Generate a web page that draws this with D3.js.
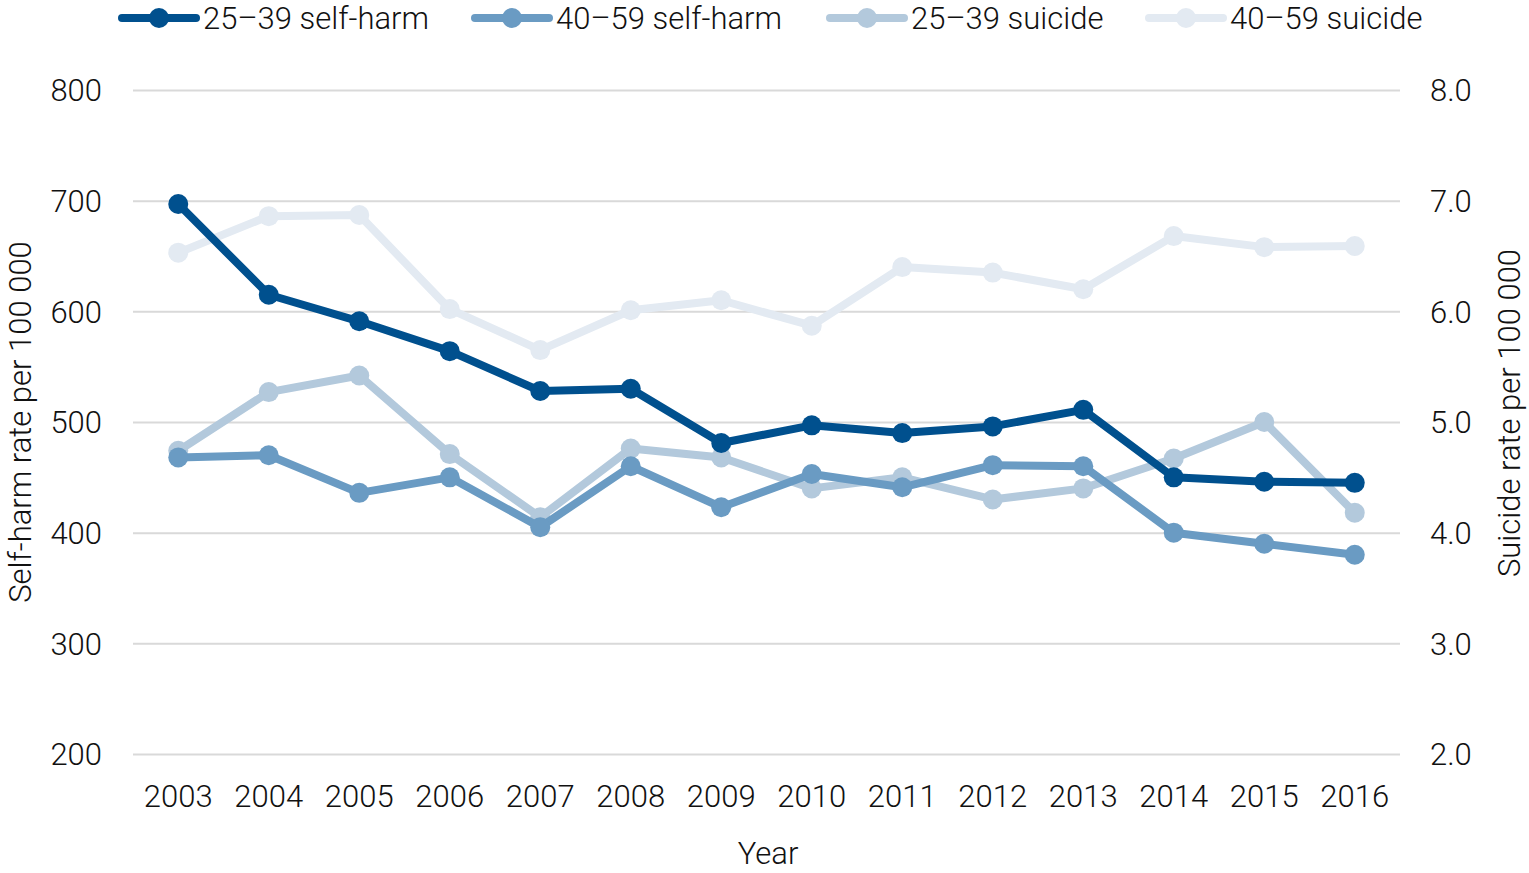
<!DOCTYPE html>
<html>
<head>
<meta charset="utf-8">
<script src="https://cdn.jsdelivr.net/npm/d3@7"></script>
<style>
  body { margin: 0; background: #fff; }
  svg text { font-family: Roboto, "Open Sans", sans-serif; font-weight: 300; fill: #111; }
</style>
</head>
<body>
<svg id="chart" width="1529" height="873"></svg>
<script>
// Data
const years = [2003, 2004, 2005, 2006, 2007, 2008, 2009, 2010, 2011, 2012, 2013, 2014, 2015, 2016];
const selfHarm2539 = [697, 615, 591, 564, 528, 530, 481, 497, 490, 496, 511, 450, 446, 445];
const selfHarm4059 = [468, 470, 436, 450, 405, 460, 423, 453, 441, 461, 460, 400, 390, 380];
const suicide2539 = [4.74, 5.27, 5.42, 4.71, 4.14, 4.76, 4.68, 4.40, 4.50, 4.30, 4.40, 4.67, 5.00, 4.18];
const suicide4059 = [6.53, 6.86, 6.87, 6.02, 5.65, 6.01, 6.10, 5.87, 6.40, 6.35, 6.20, 6.68, 6.58, 6.59];
const leftTicks = [200, 300, 400, 500, 600, 700, 800];
const rightTicks = [2, 3, 4, 5, 6, 7, 8];

const series = [
  {name: '40–59 suicide', values: suicide4059, axis: 'right', color: '#e3eaf2'},
  {name: '25–39 suicide', values: suicide2539, axis: 'right', color: '#b3c9dc'},
  {name: '40–59 self-harm', values: selfHarm4059, axis: 'left', color: '#6a9bc3'},
  {name: '25–39 self-harm', values: selfHarm2539, axis: 'left', color: '#00508e'}
];
const legendOrder = ['25–39 self-harm', '40–59 self-harm', '25–39 suicide', '40–59 suicide'];

const margin = {top: 90, left: 133, right: 129, bottom: 119};
const W = 1529, H = 873;
const w = W - margin.left - margin.right, h = H - margin.top - margin.bottom;

const svg = d3.select('#chart');
const g = svg.append('g').attr('transform', `translate(${margin.left},${margin.top})`);

const x = d3.scaleBand().domain(years).range([0, w]);
const yL = d3.scaleLinear().domain([200, 800]).range([h, 0]);
const yR = d3.scaleLinear().domain([2, 8]).range([h, 0]);

// Grid
g.append('g').call(d3.axisLeft(yL).tickValues(leftTicks).tickSize(-w).tickFormat(''))
  .call(a => a.select('.domain').remove())
  .call(a => a.selectAll('line').attr('stroke', '#d9d9d9').attr('stroke-width', 2));

// Left axis labels
g.append('g').call(d3.axisLeft(yL).tickValues(leftTicks).tickSize(0).tickPadding(31))
  .call(a => a.select('.domain').remove())
  .call(a => a.selectAll('text').attr('font-size', 31).attr('dy', '0.35em'));

// Right axis labels
g.append('g').attr('transform', `translate(${w},0)`)
  .call(d3.axisRight(yR).tickValues(rightTicks).tickSize(0).tickPadding(30).tickFormat(d3.format('.1f')))
  .call(a => a.select('.domain').remove())
  .call(a => a.selectAll('text').attr('font-size', 31).attr('dy', '0.35em'));

// X axis labels
g.append('g').attr('transform', `translate(0,${h})`)
  .call(d3.axisBottom(x).tickSize(0).tickPadding(31))
  .call(a => a.select('.domain').remove())
  .call(a => a.selectAll('text').attr('font-size', 31).attr('dy', '0.71em'));

// Axis titles
svg.append('text').attr('x', 768).attr('y', 864).attr('text-anchor', 'middle')
  .attr('font-size', 31).text('Year');
svg.append('text').attr('transform', 'translate(31,422) rotate(-90)').attr('text-anchor', 'middle')
  .attr('font-size', 31).text('Self-harm rate per 100 000');
svg.append('text').attr('transform', 'translate(1520,413) rotate(-90)').attr('text-anchor', 'middle')
  .attr('font-size', 31).text('Suicide rate per 100 000');

// Lines and points
const cx = i => x(years[i]) + x.bandwidth() / 2;
series.forEach(s => {
  const y = s.axis === 'left' ? yL : yR;
  const line = d3.line().x((d, i) => cx(i)).y(d => y(d));
  g.append('path').datum(s.values).attr('d', line)
    .attr('fill', 'none').attr('stroke', s.color).attr('stroke-width', 8)
    .attr('stroke-linejoin', 'round');
  g.selectAll(null).data(s.values).enter().append('circle')
    .attr('cx', (d, i) => cx(i)).attr('cy', d => y(d)).attr('r', 10)
    .attr('fill', s.color);
});

// Legend
const legendX = [122, 475, 830, 1149];
const leg = svg.append('g').selectAll('g').data(legendOrder).enter().append('g')
  .attr('transform', (d, i) => `translate(${legendX[i]},18)`);
leg.append('line').attr('x1', 0).attr('x2', 74)
  .attr('stroke', d => series.find(s => s.name === d).color).attr('stroke-width', 8)
  .attr('stroke-linecap', 'round');
leg.append('circle').attr('cx', 37).attr('r', 10)
  .attr('fill', d => series.find(s => s.name === d).color);
leg.append('text').attr('x', 81).attr('dy', '0.35em').attr('font-size', 31).text(d => d);
</script>
</body>
</html>
